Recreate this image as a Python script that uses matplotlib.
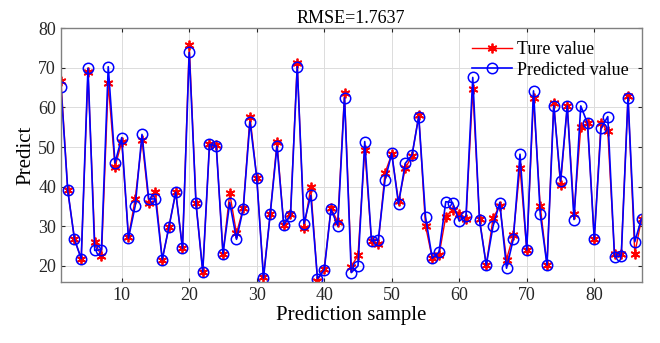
import matplotlib.pyplot as plt
import numpy as np

plt.rcParams['font.family'] = ['Liberation Serif', 'DejaVu Serif']

# 真實值與預測值
true_vals = [66.7, 39.1, 26.7, 21.8, 69.0, 26.0, 22.4, 66.1, 45.0, 51.3,
             27.2, 37.0, 51.8, 36.0, 38.7, 21.6, 29.9, 38.6, 24.4, 75.8,
             35.8, 18.5, 50.7, 50.4, 23.1, 38.3, 28.2, 34.6, 57.7, 42.3,
             17.3, 33.2, 51.3, 30.3, 33.1, 71.3, 29.5, 39.8, 16.3, 19.2,
             34.6, 31.1, 63.6, 19.8, 22.7, 49.3, 26.3, 25.6, 43.5, 48.2,
             36.3, 44.6, 47.8, 58.1, 30.1, 21.9, 22.7, 32.4, 34.2, 33.2,
             31.8, 64.6, 31.9, 20.2, 32.0, 35.2, 21.6, 27.7, 44.8, 24.0,
             62.3, 35.0, 20.2, 61.2, 40.4, 60.4, 33.2, 55.0, 56.0, 26.7,
             56.2, 54.0, 22.9, 22.9, 62.8, 23.1, 31.9]
pred_vals = [65.2, 39.1, 26.7, 21.8, 69.9, 23.9, 24.1, 70.3, 46.0, 52.4,
             27.0, 35.2, 53.2, 36.9, 36.9, 21.6, 29.9, 38.6, 24.4, 73.9,
             35.8, 18.5, 50.7, 50.3, 23.1, 36.0, 26.7, 34.4, 56.4, 42.3,
             16.9, 33.2, 50.2, 30.3, 32.7, 70.3, 30.7, 37.8, 16.8, 19.0,
             34.3, 30.1, 62.5, 18.3, 20.0, 51.4, 26.3, 26.5, 41.7, 48.4,
             35.6, 45.9, 48.0, 57.7, 32.4, 21.9, 23.5, 36.2, 36.0, 31.3,
             32.6, 67.6, 31.5, 20.2, 30.0, 36.0, 19.4, 26.7, 48.2, 24.0,
             64.2, 33.0, 20.2, 60.5, 41.4, 60.4, 31.7, 60.4, 56.0, 26.7,
             54.7, 57.7, 22.3, 22.5, 62.5, 26.1, 31.9]
samples = np.arange(1, len(true_vals) + 1)

fig = plt.figure(figsize=(6.6, 3.43), dpi=100)
ax = fig.add_axes([0.0924, 0.1787, 0.8796, 0.7388])

# MATLAB 風格的星號標記
ax.plot(samples, true_vals, color='red', marker=(6, 2, 0), markersize=7,
        markeredgewidth=1.3, linewidth=1.0, label='Ture value')
ax.plot(samples, pred_vals, color='blue', marker='o', markersize=7.5,
        markerfacecolor='none', markeredgewidth=1.1, linewidth=1.2,
        label='Predicted value')

ax.set_xlim(1, 87)
ax.set_ylim(16, 80)
ax.set_xticks(range(10, 81, 10))
ax.set_yticks(range(20, 81, 10))
ax.grid(True, color='#dcdcdc', linewidth=0.7)
ax.set_axisbelow(True)
ax.tick_params(direction='in', top=True, right=True, labelsize=13,
               colors='#262626', length=3)
for sp in ax.spines.values():
    sp.set_color('#808080')
    sp.set_linewidth(1.0)

ax.set_title('RMSE=1.7637', fontsize=13, pad=4)
ax.set_xlabel('Prediction sample', fontsize=15, labelpad=2)
ax.set_ylabel('Predict', fontsize=15, labelpad=2)
ax.legend(loc='upper right', frameon=False, fontsize=13, handlelength=2.2,
          borderaxespad=0.3, labelspacing=0.2, handletextpad=0.3)

plt.savefig('out.png', dpi=100)
